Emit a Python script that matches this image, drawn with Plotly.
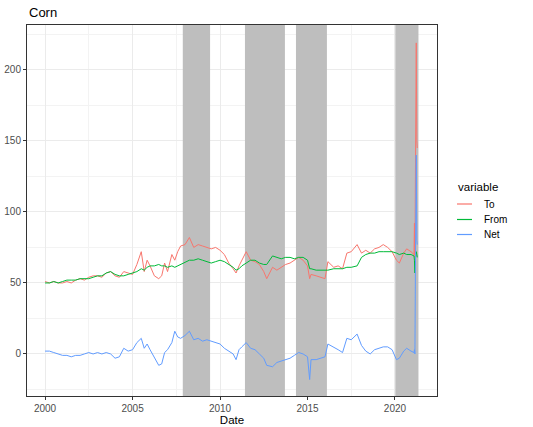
import plotly.graph_objects as go

# ---- data ----
dates = [
    "2000-01-01", "2000-04-01", "2000-07-01", "2000-10-01",
    "2001-01-01", "2001-04-01", "2001-07-01", "2001-10-01",
    "2002-01-01", "2002-04-01", "2002-07-01", "2002-10-01",
    "2003-01-01", "2003-04-01", "2003-07-01", "2003-10-01",
    "2004-01-01", "2004-04-01", "2004-07-01", "2004-10-01",
    "2005-01-01", "2005-04-01", "2005-07-01", "2005-09-01", "2005-11-01",
    "2006-01-01", "2006-04-01", "2006-07-01", "2006-09-01", "2006-11-01",
    "2007-01-01", "2007-04-01", "2007-06-01", "2007-08-01", "2007-10-01",
    "2008-01-01", "2008-04-01", "2008-07-01", "2008-10-01",
    "2009-01-01", "2009-04-01", "2009-07-01", "2009-10-01",
    "2010-01-01", "2010-04-01", "2010-07-01", "2010-10-01", "2010-12-01",
    "2011-02-01", "2011-04-01", "2011-07-01", "2011-10-01",
    "2012-01-01", "2012-04-01", "2012-07-01", "2012-09-01",
    "2013-01-01", "2013-04-01", "2013-07-01", "2013-10-01",
    "2014-01-01", "2014-04-01", "2014-07-01", "2014-10-01",
    "2015-01-01", "2015-02-15", "2015-03-15", "2015-07-01", "2015-10-01",
    "2016-01-01", "2016-03-01", "2016-07-01", "2016-10-01",
    "2017-01-01", "2017-04-01", "2017-07-01", "2017-11-01",
    "2018-02-01", "2018-05-01", "2018-08-01", "2018-11-01",
    "2019-02-01", "2019-05-01", "2019-08-01", "2019-11-01",
    "2020-02-01", "2020-04-01", "2020-07-01", "2020-09-01", "2020-12-01",
    "2021-02-01", "2021-02-10", "2021-02-20", "2021-03-05", "2021-03-20",
    "2021-04-01", "2021-04-10",
]

to_vals = [
    51, 50, 51, 50,
    50, 51, 50, 52,
    53, 52, 54, 55,
    55, 54, 57, 58,
    55, 54, 58, 57,
    56, 63, 72, 58, 66,
    62, 55, 53, 55, 64,
    58, 70, 66, 72, 76,
    77, 82, 75, 77,
    76, 75, 74, 75,
    73, 70, 64, 60, 57,
    62, 66, 72, 66,
    65, 63, 58, 53,
    61, 59, 61, 63,
    64, 66, 68, 66,
    62, 53, 56, 55, 54,
    53, 65, 61, 62,
    60, 71, 72, 77,
    71, 73, 71, 74,
    75, 77, 75, 72,
    66, 64, 71, 74, 72,
    70, 92, 68, 140, 219,
    150, 145,
]

from_vals = [
    50, 50, 51, 50,
    51, 52, 52, 52,
    53, 53, 53, 54,
    55, 55, 57, 58,
    56, 55, 55, 56,
    57, 58, 60, 59, 61,
    62, 62, 63, 62, 62,
    61, 62, 61, 62, 63,
    64, 66, 66, 67,
    66, 65, 64, 65,
    66, 65, 63, 61, 59,
    60, 62, 64, 66,
    66, 64, 63, 63,
    69, 68, 67, 68,
    68, 67, 68, 68,
    66, 60, 60, 59, 59,
    59, 59, 60, 60,
    60, 61, 61, 62,
    68, 70, 71, 71,
    72, 72, 72, 72,
    71, 70, 71, 70, 70,
    69, 66, 57, 68, 72,
    70, 68,
]

net_vals = [
    2, 2, 1, 0,
    -1, -1, -2, -1,
    -1, 0, 1, 0,
    1, 0, 1, 0,
    -3, -2, 4, 2,
    3, 8, 11, 4, 7,
    3, -2, -8, -7, 1,
    3, 8, 16, 12, 11,
    13, 16, 10, 11,
    9, 10, 9, 8,
    7, 4, 2, 0, -4,
    3, 5, 8, 4,
    3, 0, -3, -8,
    -9, -6, -5, -4,
    -3, -1, 1, 0,
    -2, -18, -4, -4, -3,
    -2, 7, 5, 3,
    1, 11, 10, 14,
    6, 2, 0, 3,
    4, 5, 5, 3,
    -4, -3, 2, 4, 2,
    1, 3, 0, 72, 140,
    80, 77,
]

series_names = ["To", "From", "Net"]
series_colors = ["#F8766D", "#00BA38", "#619CFF"]

shade_starts = ["2007-11-15", "2011-06-05", "2014-05-05", "2020-01-08"]
shade_ends = ["2009-06-07", "2013-09-16", "2016-02-10", "2021-05-05"]

x_tick_vals = ["2000-01-01", "2005-01-01", "2010-01-01", "2015-01-01", "2020-01-01"]
x_tick_text = ["2000", "2005", "2010", "2015", "2020"]
x_minor_vals = ["2002-07-02", "2007-07-02", "2012-07-02", "2017-07-02", "2022-07-02"]
y_tick_vals = [0, 50, 100, 150, 200]
y_minor_vals = [-25, 25, 75, 125, 175, 225]

X_RANGE = ["1998-12-20", "2022-05-27"]
Y_RANGE = [-29.6, 231.6]

# ---- geometry ----
FIG_W, FIG_H = 533, 427
M_L, M_R, M_T, M_B = 27, 96, 25, 31
PW = FIG_W - M_L - M_R
PH = FIG_H - M_T - M_B


def px_to_paper(fx, fy):
    return (fx - M_L) / PW, (FIG_H - M_B - fy) / PH


FONT = "Liberation Sans, Arial, sans-serif"
fig = go.Figure()

# shaded periods as a filled trace so that they sit above gridlines, below lines
sx, sy = [], []
for s, e in zip(shade_starts, shade_ends):
    sx += [s, e, e, s, s, None]
    sy += [Y_RANGE[0], Y_RANGE[0], Y_RANGE[1], Y_RANGE[1], Y_RANGE[0], None]
fig.add_trace(go.Scatter(x=sx, y=sy, mode="lines", fill="toself",
                         fillcolor="#BEBEBE", line=dict(width=0, color="#BEBEBE"),
                         hoverinfo="skip", showlegend=False))

for name, vals, col in zip(series_names, [to_vals, from_vals, net_vals], series_colors):
    fig.add_trace(go.Scatter(
        x=dates, y=vals, mode="lines", name=name,
        line=dict(color=col, width=1), showlegend=False,
    ))

# title
fig.add_annotation(text="Corn", xref="paper", yref="paper", x=0, y=1,
                   xanchor="left", yanchor="bottom", yshift=3, xshift=0,
                   showarrow=False, font=dict(family=FONT, size=13, color="#000000"))

# manual legend (ggplot style)
tx, ty = px_to_paper(456, 187)
fig.add_annotation(text="variable", xref="paper", yref="paper", x=tx, y=ty,
                   xanchor="left", yanchor="middle", showarrow=False,
                   font=dict(family=FONT, size=11.5, color="#000000"))
row_y = [204, 219.5, 234.5]
for name, col, fy in zip(series_names, series_colors, row_y):
    x0, y0 = px_to_paper(457, fy)
    x1, _ = px_to_paper(472, fy)
    fig.add_shape(type="line", xref="paper", yref="paper", x0=x0, x1=x1, y0=y0, y1=y0,
                  line=dict(color=col, width=1.2))
    lx, _ = px_to_paper(482, fy)
    fig.add_annotation(text=name, xref="paper", yref="paper", x=lx, y=y0,
                       xanchor="left", yanchor="middle", showarrow=False,
                       font=dict(family=FONT, size=10, color="#000000"))

fig.update_layout(
    width=FIG_W, height=FIG_H,
    margin=dict(l=M_L, r=M_R, t=M_T, b=M_B, autoexpand=False),
    paper_bgcolor="white", plot_bgcolor="white",
    font=dict(family=FONT, size=10, color="#4D4D4D"),
    showlegend=False,
    xaxis=dict(
        type="date", range=X_RANGE,
        tickmode="array", tickvals=x_tick_vals, ticktext=x_tick_text,
        ticks="outside", ticklen=3, tickcolor="#333333", tickwidth=1,
        tickfont=dict(family=FONT, size=10, color="#4D4D4D"),
        showgrid=True, gridcolor="#EBEBEB", gridwidth=1,
        minor=dict(tickvals=x_minor_vals, showgrid=True, gridcolor="#F3F3F3",
                   gridwidth=0.6, ticks=""),
        showline=True, mirror=True, linecolor="#333333", linewidth=1,
        zeroline=False,
        title=dict(text="Date", font=dict(family=FONT, size=11.5, color="#000000"), standoff=2),
    ),
    yaxis=dict(
        range=Y_RANGE,
        tickmode="array", tickvals=y_tick_vals,
        ticks="outside", ticklen=3, tickcolor="#333333", tickwidth=1,
        tickfont=dict(family=FONT, size=10, color="#4D4D4D"),
        showgrid=True, gridcolor="#EBEBEB", gridwidth=1,
        minor=dict(tickvals=y_minor_vals, showgrid=True, gridcolor="#F3F3F3",
                   gridwidth=0.6, ticks=""),
        showline=True, mirror=True, linecolor="#333333", linewidth=1,
        zeroline=False,
    ),
)

fig.write_html(
    "out.html",
    config={"displayModeBar": False},
    post_script="document.body.style.margin='0';document.body.style.overflow='hidden';",
)
